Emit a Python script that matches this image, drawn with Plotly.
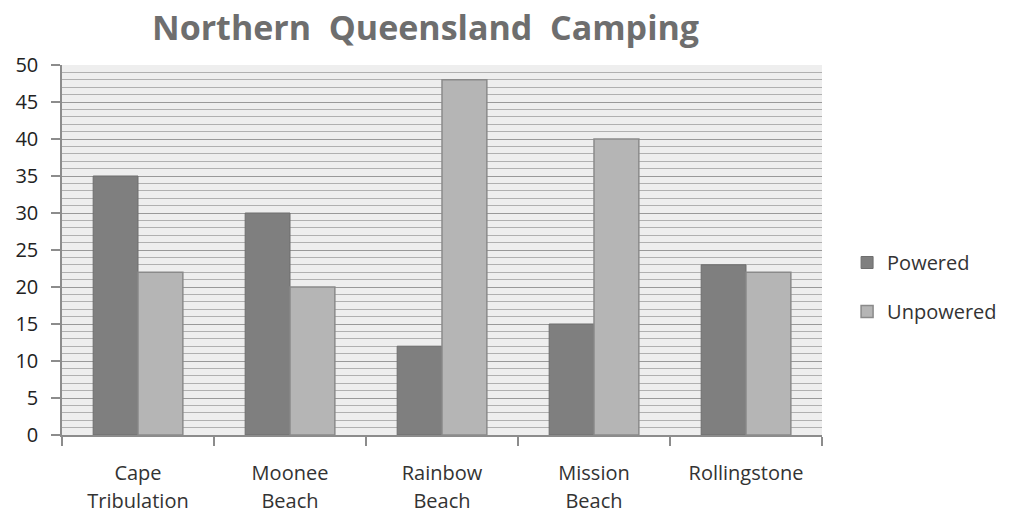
import plotly.graph_objects as go

categories_line1 = ["Cape", "Moonee", "Rainbow", "Mission", "Rollingstone"]
categories_line2 = ["Tribulation", "Beach", "Beach", "Beach", ""]
powered = [35, 30, 12, 15, 23]
unpowered = [22, 20, 48, 40, 22]
y_ticks = [0, 5, 10, 15, 20, 25, 30, 35, 40, 45, 50]

xpos = list(range(len(categories_line1)))
font_family = "'Open Sans', Lato, sans-serif"

fig = go.Figure()
fig.add_trace(go.Bar(
    x=xpos, y=powered, name="Powered", legendgroup="p",
    marker=dict(color="#7f7f7f", line=dict(color="#6e6e6e", width=1)),
))
fig.add_trace(go.Bar(
    x=xpos, y=unpowered, name="Unpowered", legendgroup="u",
    marker=dict(color="#b5b5b5", line=dict(color="#8a8a8a", width=1.5)),
))
# helper trace to carry the second line of category labels
fig.add_trace(go.Scatter(
    x=xpos, y=[None] * len(xpos), xaxis="x2", yaxis="y",
    showlegend=False, hoverinfo="skip", mode="markers",
))

fig.update_layout(
    width=1018, height=515,
    margin=dict(l=62, r=196, t=65, b=80, autoexpand=False),
    paper_bgcolor="white",
    plot_bgcolor="#eeeeee",
    barmode="group",
    bargap=0.41,
    bargroupgap=0,
    font=dict(family=font_family, size=20, color="#333333"),
    title=dict(
        text="<b>Northern  Queensland  Camping</b>",
        x=0.418, xanchor="center", y=0.945, yanchor="middle",
        font=dict(family=font_family, size=34, color="#6e6e6e"),
    ),
    legend=dict(
        x=1.033, xanchor="left", y=0.40, yanchor="middle",
        font=dict(size=20, color="#333333"),
        tracegroupgap=20,
        bgcolor="rgba(0,0,0,0)",
    ),
    showlegend=True,
)

fig.update_layout(
    xaxis=dict(
        range=[-0.5, len(xpos) - 0.5],
        tickmode="array", tickvals=xpos, ticktext=categories_line1,
        ticks="", showgrid=False, zeroline=False, automargin=False,
        showline=True, linecolor="#8c8c8c", linewidth=1.5,
        ticklabelstandoff=19,
        tickfont=dict(size=20, color="#333333"),
        minor=dict(tick0=-0.5, dtick=1, ticks="outside", ticklen=9,
                   tickcolor="#8c8c8c", tickwidth=1.5, showgrid=False),
    ),
    xaxis2=dict(
        overlaying="x", side="bottom", anchor="y",
        range=[-0.5, len(xpos) - 0.5], automargin=False,
        tickmode="array", tickvals=xpos, ticktext=categories_line2,
        ticks="", showgrid=False, zeroline=False, showline=False,
        ticklabelstandoff=52,
        tickfont=dict(size=20, color="#333333"),
    ),
    yaxis=dict(
        range=[0, 50], automargin=False,
        tickmode="array", tickvals=y_ticks,
        ticks="outside", ticklen=9, tickcolor="#8c8c8c", tickwidth=1.5,
        showline=True, linecolor="#8c8c8c", linewidth=1.5,
        showgrid=True, gridcolor="#999999", gridwidth=1.3,
        zeroline=False, ticklabelstandoff=9,
        tickfont=dict(size=20, color="#222222"),
        minor=dict(dtick=1, tick0=0, showgrid=True, gridcolor="#b0b0b0", gridwidth=1),
    ),
)

fig.write_html("out.html")
